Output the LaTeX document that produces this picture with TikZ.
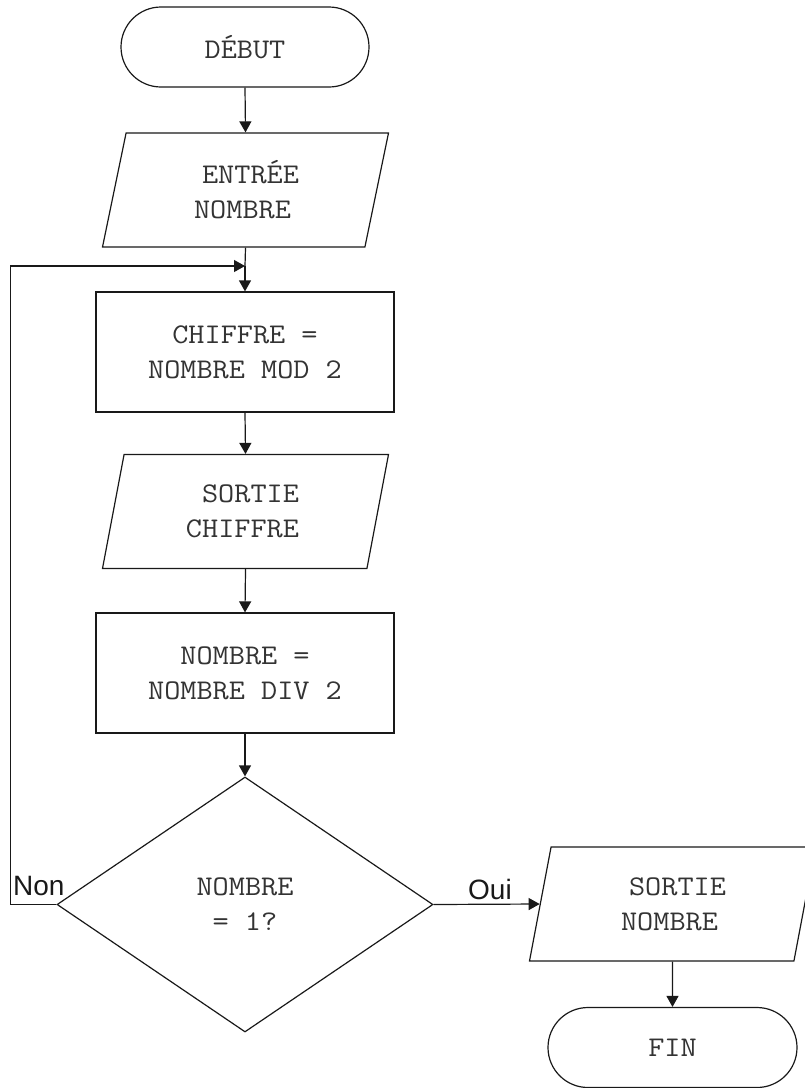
\documentclass[tikz,border=0pt]{standalone}
\usepackage{fontspec}
\newfontfamily\flowmono[FakeStretch=1.1]{Latin Modern Mono}
\newfontfamily\flowsans{Liberation Sans}
\usetikzlibrary{shapes.geometric,arrows.meta,calc}
\tikzset{
  base/.style={draw=black!90, line width=1.2pt, font=\flowmono\fontsize{28.5}{35}\selectfont, text=black!80, align=center, inner sep=2pt},
  term/.style={base, rectangle, rounded corners=40pt, minimum width=248pt, minimum height=80pt},
  proc/.style={base, rectangle, minimum width=298pt, minimum height=120pt},
  io/.style={base, trapezium, trapezium left angle=69.3, trapezium right angle=110.7, trapezium stretches body, minimum width=286pt, minimum height=114pt},
  decis/.style={base, diamond, minimum width=376pt, minimum height=255pt},
  arr/.style={draw=black!90, line width=1.2pt, -{Triangle[length=11pt,width=12pt]}},
  lbl/.style={font=\flowsans\fontsize{28}{32}\selectfont, text=black!90, inner sep=0pt}
}
\begin{document}
\begin{tikzpicture}[x=1pt,y=-1pt]
\useasboundingbox (0,0) rectangle (804,1088);
\node[term] (debut) at (245,47) {DÉBUT};
\node[io] (entree) at (245.5,190) {\hspace*{10pt}ENTRÉE\\NOMBRE\hspace*{6pt}};
\node[proc] (chiffre) at (245,352) {CHIFFRE =\\NOMBRE MOD 2};
\node[io] (sortc) at (245.5,511.5) {\hspace*{10pt}SORTIE\\CHIFFRE\hspace*{6pt}};
\node[proc] (nombre) at (245,673) {NOMBRE =\\NOMBRE DIV 2};
\node[decis] (dec) at (245,904.5) {NOMBRE\\= 1?};
\node[io] (sortn) at (672.5,904) {\hspace*{10pt}SORTIE\\NOMBRE\hspace*{6pt}};
\node[term, minimum width=249pt] (fin) at (672.5,1047.5) {FIN};
\coordinate (join) at (245,266);
\node[lbl, anchor=base west] (non) at (13,895) {Non};
\node[lbl, anchor=base west] (oui) at (468,899) {Oui};
\draw[arr] (debut.south) -- (entree.south |- entree.north);
\draw[draw=black!90, line width=1.2pt] (entree.south) -- (join);
\draw[arr] (join) -- (chiffre.north);
\draw[arr] (chiffre.south) -- (sortc.north);
\draw[arr] (sortc.south) -- (nombre.north);
\draw[arr] (nombre.south) -- (dec.north);
\draw[arr] (dec.west) -- ++(-46,0) |- (join);
\draw[arr] (dec.east) -- (sortn.west);
\draw[arr] (sortn.south) -- (fin.north);
\end{tikzpicture}
\end{document}
